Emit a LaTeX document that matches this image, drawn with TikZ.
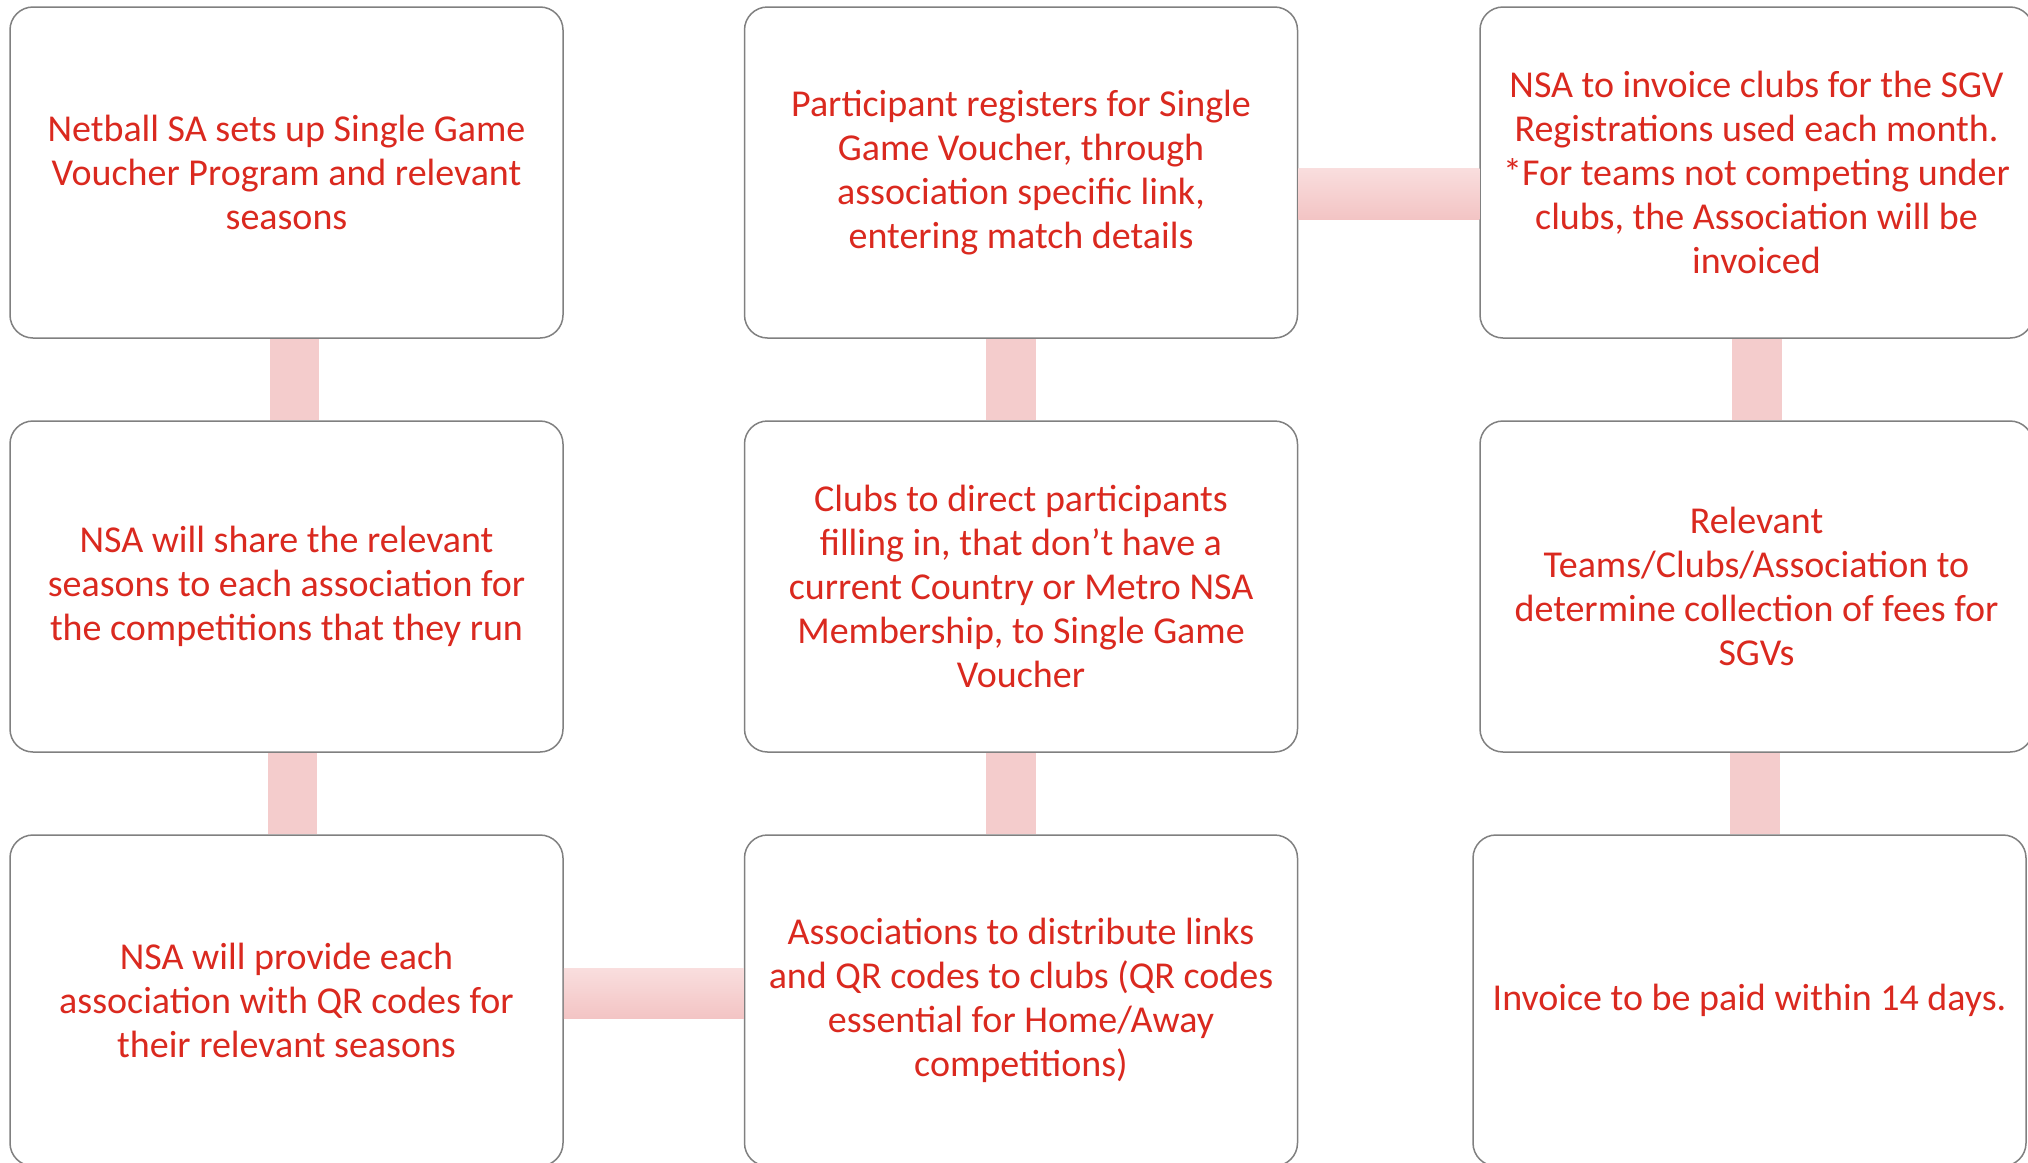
\documentclass[tikz,border=0pt]{standalone}
\usepackage{fontspec}
\setmainfont{Carlito}
\definecolor{txtred}{RGB}{218,41,31}
\definecolor{bordergray}{RGB}{128,128,128}
\definecolor{barpink}{RGB}{244,204,204}
\definecolor{bartop}{RGB}{249,222,222}
\definecolor{barbot}{RGB}{243,196,196}
\begin{document}
\begin{tikzpicture}[x=0.5pt,y=-0.5pt,
  box/.style={draw=bordergray, line width=0.75pt, fill=white, rounded corners=11.5pt,
    minimum width=276.5pt, minimum height=165.5pt, inner sep=0pt, align=center,
    text=txtred, font=\fontsize{19pt}{22pt}\selectfont},
  vbar/.style={fill=barpink, draw=none},
  hbar/.style={top color=bartop, bottom color=barbot, draw=none}]
\useasboundingbox (0,0) rectangle (2028,1162);
% boxes
\node[box] (b1) at (286.5,172.5) {Netball SA sets up Single Game\\Voucher Program and relevant\\seasons};
\node[box] (b2) at (1021,172.5) {Participant registers for Single\\Game Voucher, through\\association specific link,\\entering match details};
\node[box] (b3) at (1756.5,172.5) {NSA to invoice clubs for the SGV\\Registrations used each month.\\*For teams not competing under\\clubs, the Association will be\\invoiced};
\node[box] (b4) at (286.5,586.5) {NSA will share the relevant\\seasons to each association for\\the competitions that they run};
\node[box] (b5) at (1021,586.5) {Clubs to direct participants\\filling in, that don’t have a\\current Country or Metro NSA\\Membership, to Single Game\\Voucher};
\node[box] (b6) at (1756.5,586.5) {Relevant\\Teams/Clubs/Association to\\determine collection of fees for\\SGVs};
\node[box] (b7) at (286.5,1000.5) {NSA will provide each\\association with QR codes for\\their relevant seasons};
\node[box] (b8) at (1021,1000.5) {Associations to distribute links\\and QR codes to clubs (QR codes\\essential for Home/Away\\competitions)};
\node[box] (b9) at (1749.5,1000.5) {Invoice to be paid within 14 days.};
% connectors
\fill[vbar] ([xshift=-8.25pt]b1.south) rectangle ([xshift=16.25pt]b4.north);
\fill[vbar] ([xshift=-9.25pt]b4.south) rectangle ([xshift=15.25pt]b7.north);
\fill[vbar] ([xshift=-17.5pt]b2.south) rectangle ([xshift=7.5pt]b5.north);
\fill[vbar] ([xshift=-17.5pt]b5.south) rectangle ([xshift=7.5pt]b8.north);
\fill[vbar] ([xshift=-12.25pt]b3.south) rectangle ([xshift=12.75pt]b6.north);
\fill[vbar] ([xshift=-13.25pt]b6.south) rectangle ([xshift=11.75pt]b6.south |- b9.north);
\shade[hbar] ([yshift=2.25pt]b2.east) rectangle ([yshift=-23.25pt]b3.west);
\shade[hbar] ([yshift=16.25pt]b7.east) rectangle ([yshift=-8.75pt]b8.west);
\end{tikzpicture}
\end{document}
